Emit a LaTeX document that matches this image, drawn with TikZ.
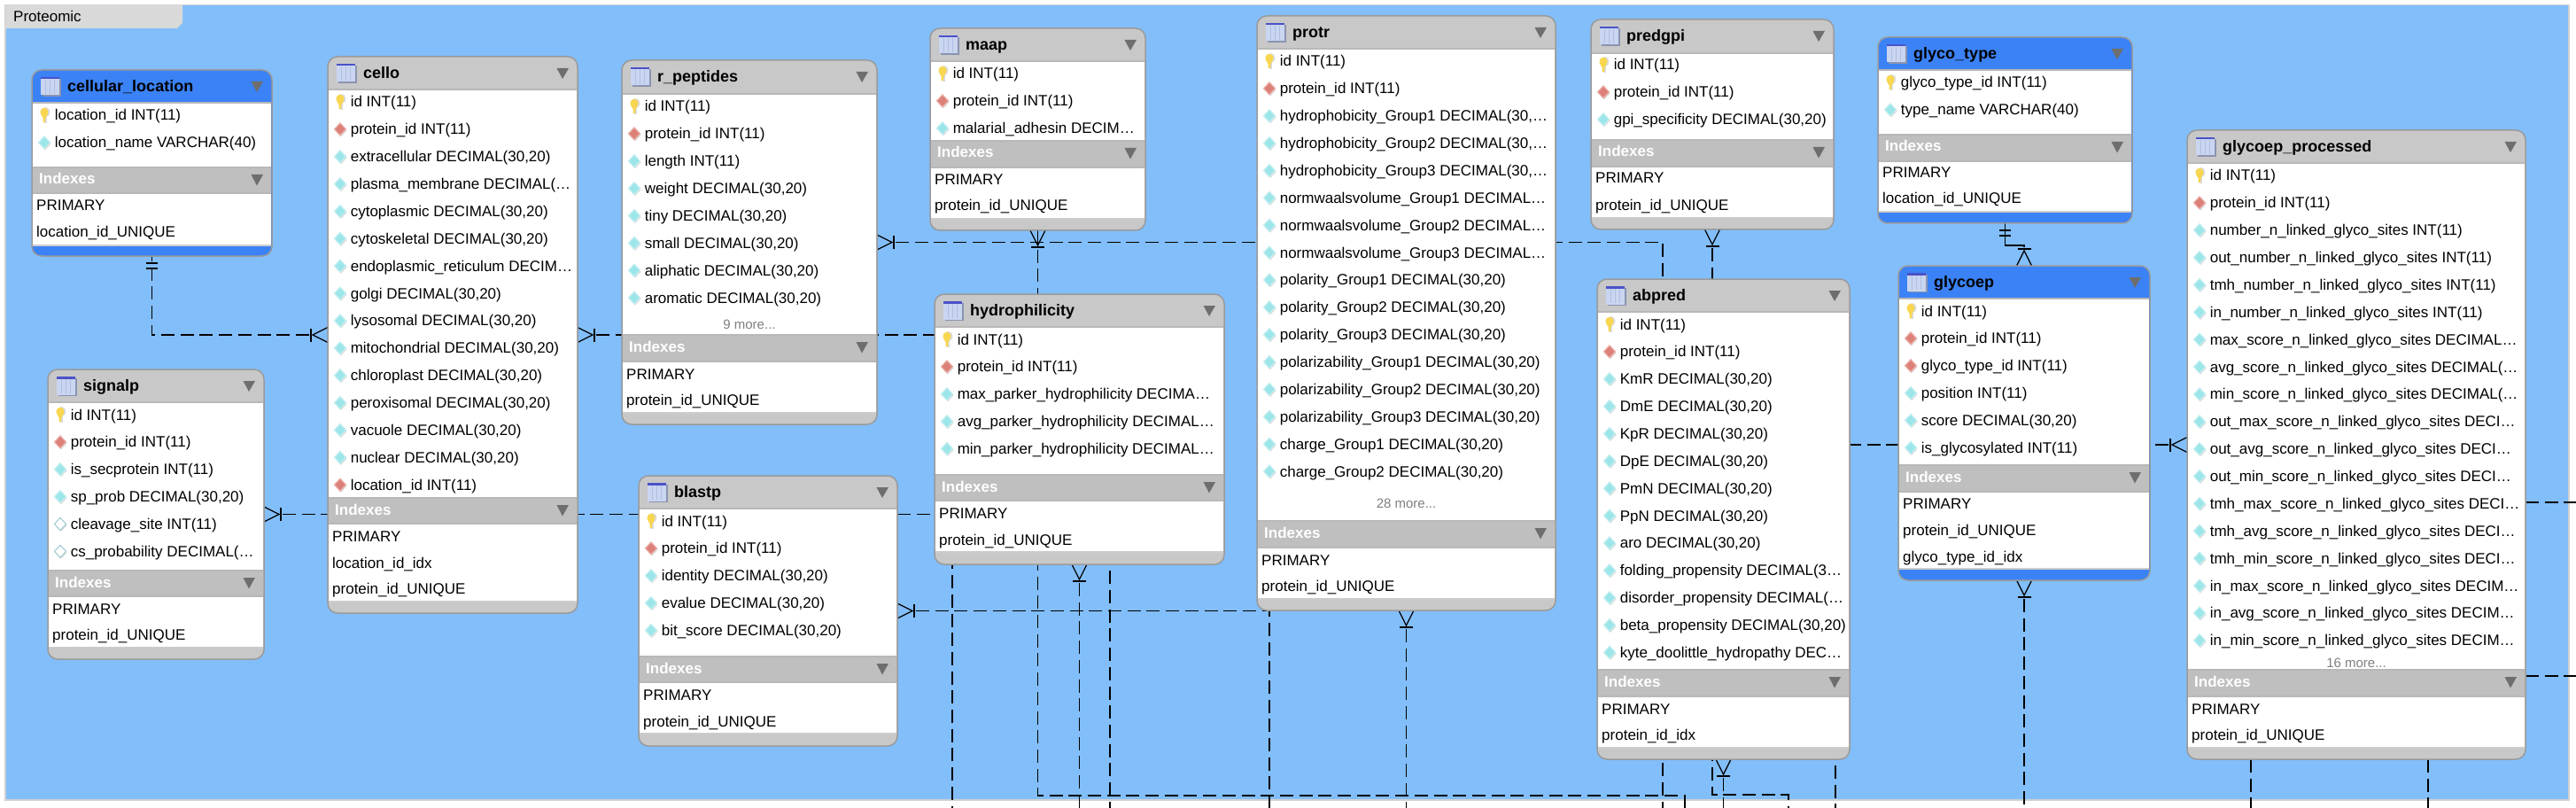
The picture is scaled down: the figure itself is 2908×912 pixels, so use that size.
\documentclass[tikz,border=0pt]{standalone}
\usepackage{fontspec}
\setmainfont{Liberation Sans}
\usetikzlibrary{calc}
\definecolor{panelblue}{HTML}{82BEFA}
\definecolor{hdrgray}{HTML}{C8C8C8}
\definecolor{bandgray}{HTML}{BFBFBF}
\definecolor{hdrblue}{HTML}{3B82F6}
\definecolor{frameg}{HTML}{9A9A9A}
\definecolor{tabgray}{HTML}{D9D9D9}
\definecolor{triag}{HTML}{6E6E6E}
\definecolor{dcyan}{HTML}{9CE6EA}
\definecolor{dcyanb}{HTML}{C4EEF0}
\definecolor{dred}{HTML}{DC8078}
\definecolor{dredb}{HTML}{EBB0AA}
\definecolor{dnull}{HTML}{A8CFD4}
\definecolor{dkey}{HTML}{F8D650}
\definecolor{iconfill}{HTML}{CAD5F0}
\definecolor{icontop}{HTML}{4A52C8}
\definecolor{iconline}{HTML}{AEBFE4}
\definecolor{iconshadow}{HTML}{8A94B0}
\pgfdeclarelayer{bg}
\pgfsetlayers{bg,main}
\newcount\rowc
\tikzset{
  ertable/.style={draw=frameg,line width=1.5pt,rounded corners=11pt,inner sep=0pt,outer sep=0pt},
  rowtext/.style={anchor=base west,inner sep=0pt,font=\fontsize{17}{20}\selectfont,text=black},
  titletext/.style={anchor=base west,inner sep=0pt,font=\fontsize{18}{20}\selectfont\bfseries,text=black},
  idxhead/.style={anchor=base west,inner sep=0pt,font=\fontsize{17}{20}\selectfont\bfseries,text=white},
  moretext/.style={anchor=base,inner sep=0pt,font=\fontsize{15}{18}\selectfont,text=black!50},
  conn/.style={draw=black,line width=1.3pt,dash pattern=on 15pt off 6.7pt},
  term/.style={draw=black,line width=1.3pt},
  sepline/.style={draw=black!28,line width=1.5pt},
  tri/.style={fill=triag}
}
\newcommand{\tbl}[9]{% name, title, l, r, t, b, header bottom, band top, header colour
  \xdef\tname{#1}\xdef\tbL{#3}\xdef\tbR{#4}\xdef\tbB{#6}
  \pgfmathsetmacro\tbw{#4-#3}\pgfmathsetmacro\tbh{#6-#5}
  \node[ertable,fill=#9,minimum width=\tbw pt,minimum height=\tbh pt,anchor=north west] (#1) at (#3,#5) {};
  \fill[white] ({#3+.8},#7) rectangle ({#4-.8},#8);
  \draw[sepline] ({#3+.8},#7) -- ({#4-.8},#7);
  % table icon
  \fill[iconshadow] ({#3+12},{#5+10}) rectangle ({#3+32.5},{#5+30});
  \fill[iconfill] ({#3+10},{#5+8}) rectangle ({#3+31},{#5+28.5});
  \fill[icontop] ({#3+10},{#5+8}) rectangle ({#3+31},{#5+10.5});
  \draw[iconline,line width=.8pt] ({#3+15.5},{#5+11}) -- ({#3+15.5},{#5+27}) ({#3+20.5},{#5+11}) -- ({#3+20.5},{#5+27}) ({#3+25.5},{#5+11}) -- ({#3+25.5},{#5+27});
  \node[titletext] (#1-title) at ({#3+40},{#5+24.5}) {#2};
  \fill[tri] ({#4-23.5},{#5+13}) -- ({#4-10},{#5+13}) -- ({#4-17},{#5+25}) -- cycle;
}
\newcommand{\tblidx}[3]{% band top, band bottom, white end
  \fill[bandgray] ({\tbL+.8},#1) rectangle ({\tbR-.8},#2);
  \draw[sepline] ({\tbL+.8},#1) -- ({\tbR-.8},#1);
  \draw[sepline] ({\tbL+.8},#2) -- ({\tbR-.8},#2);
  \fill[white] ({\tbL+.8},{#2+.7}) rectangle ({\tbR-.8},#3);
  \draw[sepline,draw=black!20] ({\tbL+.8},#3) -- ({\tbR-.8},#3);
  \node[idxhead] (\tname-idx) at ({\tbL+8},{#1+19}) {Indexes};
  \fill[tri] ({\tbR-23.5},{#1+8}) -- ({\tbR-10},{#1+8}) -- ({\tbR-17},{#1+20.5}) -- cycle;
}
\newcommand{\rowstart}[1]{\xdef\rowy{#1}\global\rowc=0 }
\newcommand{\advrow}{\pgfmathparse{\rowy+30.87}\xdef\rowy{\pgfmathresult}\global\advance\rowc by 1 }
\newcommand{\diam}[3]{% fill, border, shadow
  \fill[#3] ({\tbL+15},{\rowy-5.5}) -- ({\tbL+21.5},{\rowy+1.5}) -- ({\tbL+15},{\rowy+8.5}) -- ({\tbL+8.5},{\rowy+1.5}) -- cycle;
  \fill[#1,draw=#2,line width=1.2pt] ({\tbL+14},{\rowy-7}) -- ({\tbL+20.5},{\rowy+0}) -- ({\tbL+14},{\rowy+7}) -- ({\tbL+7.5},{\rowy+0}) -- cycle;
}
\newcommand{\rowlabel}[1]{\node[rowtext] (\tname-r\the\rowc) at ({\tbL+25.6},{\rowy+6}) {#1};\advrow}
\newcommand{\fkey}[1]{%
  \fill[black!14] ({\tbL+15.5},{\rowy-3.5}) ellipse (5pt and 5.5pt);
  \fill[black!14] ({\tbL+13.5},{\rowy-1}) rectangle ({\tbL+17},{\rowy+9});
  \fill[dkey] ({\tbL+9.5},{\rowy-3}) .. controls ({\tbL+9.5},{\rowy-10}) and ({\tbL+18.5},{\rowy-10}) .. ({\tbL+18.5},{\rowy-3}) .. controls ({\tbL+18.5},{\rowy}) and ({\tbL+16},{\rowy+1}) .. ({\tbL+15.5},{\rowy+3}) -- ({\tbL+15},{\rowy+8}) -- ({\tbL+12.5},{\rowy+8}) -- ({\tbL+12.5},{\rowy+3}) .. controls ({\tbL+12},{\rowy+1}) and ({\tbL+9.5},{\rowy}) .. cycle;
  \rowlabel{#1}}
\newcommand{\ffld}[1]{\diam{dcyan}{dcyanb}{black!14}\rowlabel{#1}}
\newcommand{\frel}[1]{\diam{dred}{dredb}{black!14}\rowlabel{#1}}
\newcommand{\fnul}[1]{\diam{white}{dnull}{black!14}\rowlabel{#1}}
\newcommand{\ixrow}[2]{\global\advance\rowc by 1 \node[rowtext] (\tname-i\the\rowc) at ({\tbL+5},{#1+6}) {#2};}
\newcommand{\morerow}[2]{\node[moretext] (\tname-more) at ({(\tbL+\tbR)/2},{#1+5}) {#2};}
\newcommand{\crowfoot}[2]{\begin{scope}[shift={(#1)},rotate=#2,x=1pt,y=1pt]
  \draw[term] (0,8.5) -- (17,0) -- (0,-8.5);
  \draw[term] (19,7.5) -- (19,-7.5);
\end{scope}}
\newcommand{\onebar}[2]{\begin{scope}[shift={(#1)},rotate=#2,x=1pt,y=1pt]
  \draw[term] (8,6.5) -- (8,-6.5);
  \draw[term] (14,6.5) -- (14,-6.5);
\end{scope}}
\begin{document}
\catcode`\_=12
\begin{tikzpicture}[x=1pt,y=-1pt]
\useasboundingbox (0,0) rectangle (2908,912);

%--- tables -------------------------------------------------
\tbl{cellular}{cellular_location}{36}{307}{79}{289}{116}{189}{hdrblue}
\rowstart{130}
\fkey{location_id INT(11)}
\ffld{location_name VARCHAR(40)}
\tblidx{189}{218}{277}
\ixrow{232}{PRIMARY}
\ixrow{262}{location_id_UNIQUE}

\tbl{cello}{cello}{370}{652}{64}{692}{101}{562}{hdrgray}
\rowstart{115}
\fkey{id INT(11)}
\frel{protein_id INT(11)}
\ffld{extracellular DECIMAL(30,20)}
\ffld{plasma_membrane DECIMAL(…}
\ffld{cytoplasmic DECIMAL(30,20)}
\ffld{cytoskeletal DECIMAL(30,20)}
\ffld{endoplasmic_reticulum DECIM…}
\ffld{golgi DECIMAL(30,20)}
\ffld{lysosomal DECIMAL(30,20)}
\ffld{mitochondrial DECIMAL(30,20)}
\ffld{chloroplast DECIMAL(30,20)}
\ffld{peroxisomal DECIMAL(30,20)}
\ffld{vacuole DECIMAL(30,20)}
\ffld{nuclear DECIMAL(30,20)}
\frel{location_id INT(11)}
\tblidx{562}{591}{679}
\ixrow{605}{PRIMARY}
\ixrow{635}{location_id_idx}
\ixrow{664}{protein_id_UNIQUE}

\tbl{signalp}{signalp}{54}{298}{417}{744}{454}{644}{hdrgray}
\rowstart{468}
\fkey{id INT(11)}
\frel{protein_id INT(11)}
\ffld{is_secprotein INT(11)}
\ffld{sp_prob DECIMAL(30,20)}
\fnul{cleavage_site INT(11)}
\fnul{cs_probability DECIMAL(…}
\tblidx{644}{673}{731}
\ixrow{687}{PRIMARY}
\ixrow{716}{protein_id_UNIQUE}

\tbl{rpeptides}{r_peptides}{702}{990}{68}{479}{106}{378}{hdrgray}
\rowstart{120}
\fkey{id INT(11)}
\frel{protein_id INT(11)}
\ffld{length INT(11)}
\ffld{weight DECIMAL(30,20)}
\ffld{tiny DECIMAL(30,20)}
\ffld{small DECIMAL(30,20)}
\ffld{aliphatic DECIMAL(30,20)}
\ffld{aromatic DECIMAL(30,20)}
\morerow{366}{9 more...}
\tblidx{378}{408}{466}
\ixrow{422}{PRIMARY}
\ixrow{451}{protein_id_UNIQUE}

\tbl{maap}{maap}{1050}{1293}{32}{260}{69}{159}{hdrgray}
\rowstart{83}
\fkey{id INT(11)}
\frel{protein_id INT(11)}
\ffld{malarial_adhesin DECIM…}
\tblidx{159}{189}{247}
\ixrow{203}{PRIMARY}
\ixrow{232}{protein_id_UNIQUE}

\tbl{hydro}{hydrophilicity}{1055}{1382}{332}{637}{369}{536}{hdrgray}
\rowstart{383}
\fkey{id INT(11)}
\frel{protein_id INT(11)}
\ffld{max_parker_hydrophilicity DECIMA…}
\ffld{avg_parker_hydrophilicity DECIMAL…}
\ffld{min_parker_hydrophilicity DECIMAL…}
\tblidx{536}{565}{623}
\ixrow{579}{PRIMARY}
\ixrow{609}{protein_id_UNIQUE}

\tbl{blastp}{blastp}{721}{1013}{537}{842}{574}{741}{hdrgray}
\rowstart{588}
\fkey{id INT(11)}
\frel{protein_id INT(11)}
\ffld{identity DECIMAL(30,20)}
\ffld{evalue DECIMAL(30,20)}
\ffld{bit_score DECIMAL(30,20)}
\tblidx{741}{770}{828}
\ixrow{784}{PRIMARY}
\ixrow{814}{protein_id_UNIQUE}

\tbl{protr}{protr}{1419}{1756}{18}{689}{55}{588}{hdrgray}
\rowstart{69}
\fkey{id INT(11)}
\frel{protein_id INT(11)}
\ffld{hydrophobicity_Group1 DECIMAL(30,…}
\ffld{hydrophobicity_Group2 DECIMAL(30,…}
\ffld{hydrophobicity_Group3 DECIMAL(30,…}
\ffld{normwaalsvolume_Group1 DECIMAL…}
\ffld{normwaalsvolume_Group2 DECIMAL…}
\ffld{normwaalsvolume_Group3 DECIMAL…}
\ffld{polarity_Group1 DECIMAL(30,20)}
\ffld{polarity_Group2 DECIMAL(30,20)}
\ffld{polarity_Group3 DECIMAL(30,20)}
\ffld{polarizability_Group1 DECIMAL(30,20)}
\ffld{polarizability_Group2 DECIMAL(30,20)}
\ffld{polarizability_Group3 DECIMAL(30,20)}
\ffld{charge_Group1 DECIMAL(30,20)}
\ffld{charge_Group2 DECIMAL(30,20)}
\morerow{568}{28 more...}
\tblidx{588}{618}{676}
\ixrow{632}{PRIMARY}
\ixrow{661}{protein_id_UNIQUE}

\tbl{predgpi}{predgpi}{1796}{2070}{22}{259}{60}{158}{hdrgray}
\rowstart{73}
\fkey{id INT(11)}
\frel{protein_id INT(11)}
\ffld{gpi_specificity DECIMAL(30,20)}
\tblidx{158}{188}{246}
\ixrow{201}{PRIMARY}
\ixrow{231}{protein_id_UNIQUE}

\tbl{abpred}{abpred}{1803}{2088}{315}{857}{352}{756}{hdrgray}
\rowstart{366}
\fkey{id INT(11)}
\frel{protein_id INT(11)}
\ffld{KmR DECIMAL(30,20)}
\ffld{DmE DECIMAL(30,20)}
\ffld{KpR DECIMAL(30,20)}
\ffld{DpE DECIMAL(30,20)}
\ffld{PmN DECIMAL(30,20)}
\ffld{PpN DECIMAL(30,20)}
\ffld{aro DECIMAL(30,20)}
\ffld{folding_propensity DECIMAL(3…}
\ffld{disorder_propensity DECIMAL(…}
\ffld{beta_propensity DECIMAL(30,20)}
\ffld{kyte_doolittle_hydropathy DEC…}
\tblidx{756}{786}{844}
\ixrow{800}{PRIMARY}
\ixrow{829}{protein_id_idx}

\tbl{glycotype}{glyco_type}{2120}{2407}{42}{252}{79}{152}{hdrblue}
\rowstart{93}
\fkey{glyco_type_id INT(11)}
\ffld{type_name VARCHAR(40)}
\tblidx{152}{182}{239}
\ixrow{195}{PRIMARY}
\ixrow{224}{location_id_UNIQUE}

\tbl{glycoep}{glycoep}{2143}{2427}{300}{655}{337}{525}{hdrblue}
\rowstart{351}
\fkey{id INT(11)}
\frel{protein_id INT(11)}
\frel{glyco_type_id INT(11)}
\ffld{position INT(11)}
\ffld{score DECIMAL(30,20)}
\ffld{is_glycosylated INT(11)}
\tblidx{525}{555}{642}
\ixrow{568}{PRIMARY}
\ixrow{598}{protein_id_UNIQUE}
\ixrow{628}{glyco_type_id_idx}

\tbl{gproc}{glycoep_processed}{2469}{2851}{147}{857}{184}{756}{hdrgray}
\rowstart{198}
\fkey{id INT(11)}
\frel{protein_id INT(11)}
\ffld{number_n_linked_glyco_sites INT(11)}
\ffld{out_number_n_linked_glyco_sites INT(11)}
\ffld{tmh_number_n_linked_glyco_sites INT(11)}
\ffld{in_number_n_linked_glyco_sites INT(11)}
\ffld{max_score_n_linked_glyco_sites DECIMAL…}
\ffld{avg_score_n_linked_glyco_sites DECIMAL(…}
\ffld{min_score_n_linked_glyco_sites DECIMAL(…}
\ffld{out_max_score_n_linked_glyco_sites DECI…}
\ffld{out_avg_score_n_linked_glyco_sites DECI…}
\ffld{out_min_score_n_linked_glyco_sites DECI…}
\ffld{tmh_max_score_n_linked_glyco_sites DECI…}
\ffld{tmh_avg_score_n_linked_glyco_sites DECI…}
\ffld{tmh_min_score_n_linked_glyco_sites DECI…}
\ffld{in_max_score_n_linked_glyco_sites DECIM…}
\ffld{in_avg_score_n_linked_glyco_sites DECIM…}
\ffld{in_min_score_n_linked_glyco_sites DECIM…}
\morerow{748}{16 more...}
\tblidx{756}{786}{844}
\ixrow{800}{PRIMARY}
\ixrow{829}{protein_id_UNIQUE}

%--- free ends of connectors --------------------------------
\coordinate (bA) at (1075,912);
\coordinate (bB) at (1253,912);
\coordinate (bC) at (1877,912);
\coordinate (bD) at (1433,912);
\coordinate (bE) at (2072,912);
\coordinate (bF) at (1902,912);
\coordinate (tF) at (1902,898);
\coordinate (bG) at (2019,912);
\coordinate (tG) at (2019,897);
\coordinate (bH) at (2541,912);
\coordinate (bI) at (2741,912);
\coordinate (rA) at (2908,567);
\coordinate (rB) at (2908,763);
\coordinate (gm) at (2274,277);

\begin{pgfonlayer}{bg}
\fill[white] (0,0) rectangle (2908,912);
\fill[panelblue,draw=black!18,line width=1.5pt] (6,5.5) rectangle (2900,903);
\fill[tabgray] (6,5) -- (206,5) -- (206,26) -- (200,32) -- (6,32) -- cycle;
\node[rowtext] (panelname) at (15,25) {Proteomic};

\draw[conn,dash phase=9pt,shorten >=21pt] (cellular.south) |- (cello.west);
\onebar{cellular.south}{-90}\crowfoot{cello.west}{180}

\draw[conn,shorten <=21pt] (signalp.east) -| (bA);
\crowfoot{signalp.east}{0}

\draw[conn,shorten <=21pt] (cello.east) -| (bB);
\crowfoot{cello.east}{0}

\draw[conn,shorten <=21pt] (rpeptides.east) -| (bC);
\crowfoot{rpeptides.east}{0}

\draw[conn] (maap.south) |- (tF) -- (bF);
\crowfoot{maap.south}{-90}

\draw[conn,shorten <=21pt] (hydro.south) -- (hydro.south |- bA);
\crowfoot{hydro.south}{-90}

\draw[conn,shorten <=21pt] (blastp.east) -| (bD);
\crowfoot{blastp.east}{0}

\draw[conn,shorten <=21pt] (protr.south) -- (protr.south |- bA);
\crowfoot{protr.south}{-90}

\draw[conn,shorten <=21pt] (predgpi.south) |- (tG) -- (bG);
\crowfoot{predgpi.south}{-90}

\draw[conn,shorten <=21pt] (abpred.south) -- (abpred.south |- bA);
\crowfoot{abpred.south}{-90}

\draw[conn,shorten <=21pt] (gproc.west) -| (bE);
\crowfoot{gproc.west}{180}

\draw[conn,shorten <=21pt] (glycoep.south) -- (glycoep.south |- bA);
\crowfoot{glycoep.south}{-90}

\draw[conn,dash pattern=on 30pt off 0pt,shorten >=21pt] (glycotype.south) |- (gm) -| (glycoep.north);
\onebar{glycotype.south}{-90}\crowfoot{glycoep.north}{90}

\draw[conn] (gproc.south -| bH) -- (bH);
\draw[conn] (gproc.south -| bI) -- (bI);
\draw[conn] (gproc.east |- rA) -- (rA);
\draw[conn] (gproc.east |- rB) -- (rB);
\end{pgfonlayer}
\end{tikzpicture}
\end{document}
